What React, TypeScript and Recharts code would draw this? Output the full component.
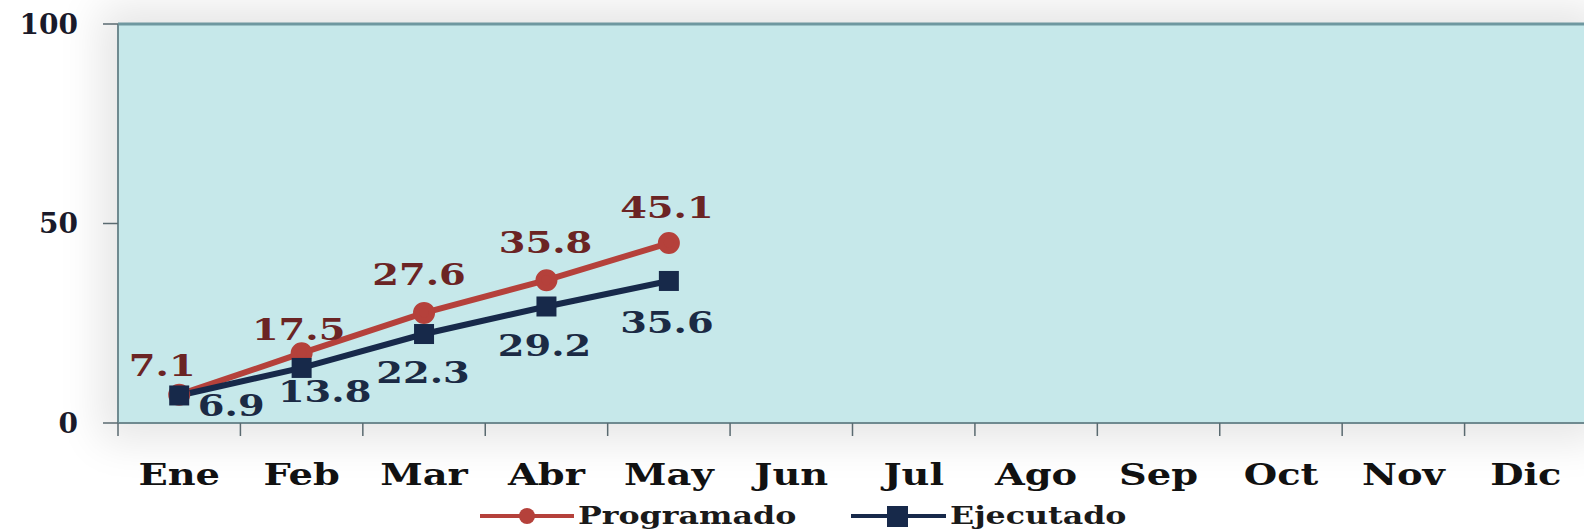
import React from 'react';
import {
  LineChart, Line, XAxis, YAxis, CartesianGrid, Legend, ReferenceLine, LabelList
} from 'recharts';

// data
const months = ['Ene', 'Feb', 'Mar', 'Abr', 'May', 'Jun', 'Jul', 'Ago', 'Sep', 'Oct', 'Nov', 'Dic'];
const programado = [7.1, 17.5, 27.6, 35.8, 45.1];
const ejecutado = [6.9, 13.8, 22.3, 29.2, 35.6];
const yTicks = [0, 50, 100];

// label nudges (px), to mimic the hand placed labels
const progNudgeX = [-17, -3, -5, -1, -2];
const progNudgeY = [-30, -24, -39, -38, -36];
const ejecNudgeX = [52, 23, -1, -2, -2];
const ejecNudgeY = [10, 23, 38, 39, 41];

const W = 1584;
const H = 531;
const PLOT_LEFT = 118;
const PLOT_RIGHT = -3;
const STEP = (W - PLOT_LEFT - PLOT_RIGHT) / months.length;

const RED = '#b5413b';
const NAVY = '#17294a';
const FONT = '"DejaVu Serif", serif';

const data = months.map((m, i) => ({
  month: m,
  programado: programado[i] ?? null,
  ejecutado: ejecutado[i] ?? null,
}));

const MonthTick = (props: any) => {
  const { x, y, payload, index } = props;
  const half = STEP / 2;
  return (
    <g>
      <line x1={x - half} x2={x - half} y1={y} y2={y + 13} stroke="#5a6a70" strokeWidth={1.5} />
      {index === months.length - 1 && (
        <line x1={x + half} x2={x + half} y1={y} y2={y + 13} stroke="#5a6a70" strokeWidth={1.5} />
      )}
      <text
        transform={`translate(${x},${y + 62}) scale(1.28,1)`}
        textAnchor="middle"
        fontFamily={FONT}
        fontWeight="bold"
        fontSize={30}
        fill="#111"
      >
        {payload.value}
      </text>
    </g>
  );
};

const makeLabel = (nx: number[], ny: number[], color: string) => (props: any) => {
  const { x, y, index, value } = props;
  if (value == null) return null;
  return (
    <text
      transform={`translate(${x + nx[index]},${y + ny[index] + 11}) scale(1.28,1)`}
      textAnchor="middle"
      fontFamily={FONT}
      fontWeight="bold"
      fontSize={30}
      fill={color}
    >
      {value}
    </text>
  );
};

const SquareDot = (props: any) => {
  const { cx, cy, value } = props;
  if (value == null || cx == null) return null;
  return <rect x={cx - 10} y={cy - 10} width={20} height={20} fill={NAVY} />;
};

const LegendBox = () => (
  <svg width={W} height={36} style={{ display: 'block' }}>
    <line x1={480} x2={574} y1={21} y2={21} stroke={RED} strokeWidth={4} />
    <circle cx={527} cy={21} r={8} fill={RED} />
    <text transform="translate(578,29) scale(1.32,1)" fontFamily={FONT} fontWeight="bold" fontSize={24} fill="#1a1a1a">
      Programado
    </text>
    <line x1={851} x2={946} y1={21} y2={21} stroke={NAVY} strokeWidth={4} />
    <rect x={887} y={11} width={21} height={21} fill={NAVY} />
    <text transform="translate(950,29) scale(1.32,1)" fontFamily={FONT} fontWeight="bold" fontSize={24} fill="#1a1a1a">
      Ejecutado
    </text>
  </svg>
);

export default function App() {
  return (
    <div style={{ position: 'relative', width: W, height: H, background: '#fff', overflow: 'hidden' }}>
      <style>{'body{margin:0}'}</style>
      <div
        style={{
          position: 'absolute', left: PLOT_LEFT, top: 24, width: W - PLOT_LEFT, height: 399,
          boxShadow: '0 0 40px 18px #e6e6e6',
        }}
      />
      <div style={{ position: 'absolute', left: 0, top: 0 }}>
        <LineChart width={W} height={H} data={data} margin={{ top: 24, right: PLOT_RIGHT, left: 0, bottom: 0 }}>
          <CartesianGrid fill="#c6e8ea" horizontal={false} vertical={false} />
          <ReferenceLine y={100} stroke="#6f98a0" strokeWidth={3} />
          <XAxis
            dataKey="month"
            height={72}
            padding={{ left: STEP / 2, right: STEP / 2 }}
            axisLine={{ stroke: '#6f8a90', strokeWidth: 2 }}
            tickLine={false}
            tickSize={0}
            tickMargin={0}
            interval={0}
            tick={<MonthTick />}
          />
          <YAxis
            width={PLOT_LEFT}
            domain={[0, 100]}
            ticks={yTicks}
            axisLine={{ stroke: '#6f8a90', strokeWidth: 2 }}
            tickLine={{ stroke: '#5a6a70', strokeWidth: 1.5 }}
            tickSize={15}
            tickMargin={25}
            tick={{ fontFamily: FONT, fontWeight: 'bold', fontSize: 28, fill: '#1a1a2a' }}
          />
          <Legend verticalAlign="bottom" height={36} content={<LegendBox />} wrapperStyle={{ left: 0, width: W }} />
          <Line
            dataKey="programado"
            name="Programado"
            stroke={RED}
            strokeWidth={6}
            dot={{ r: 8, fill: RED, stroke: RED }}
            isAnimationActive={false}
            connectNulls={false}
          >
            <LabelList dataKey="programado" content={makeLabel(progNudgeX, progNudgeY, '#6b2424')} />
          </Line>
          <Line
            dataKey="ejecutado"
            name="Ejecutado"
            stroke={NAVY}
            strokeWidth={6}
            dot={<SquareDot />}
            isAnimationActive={false}
            connectNulls={false}
          >
            <LabelList dataKey="ejecutado" content={makeLabel(ejecNudgeX, ejecNudgeY, '#1b2a44')} />
          </Line>
        </LineChart>
      </div>
    </div>
  );
}
